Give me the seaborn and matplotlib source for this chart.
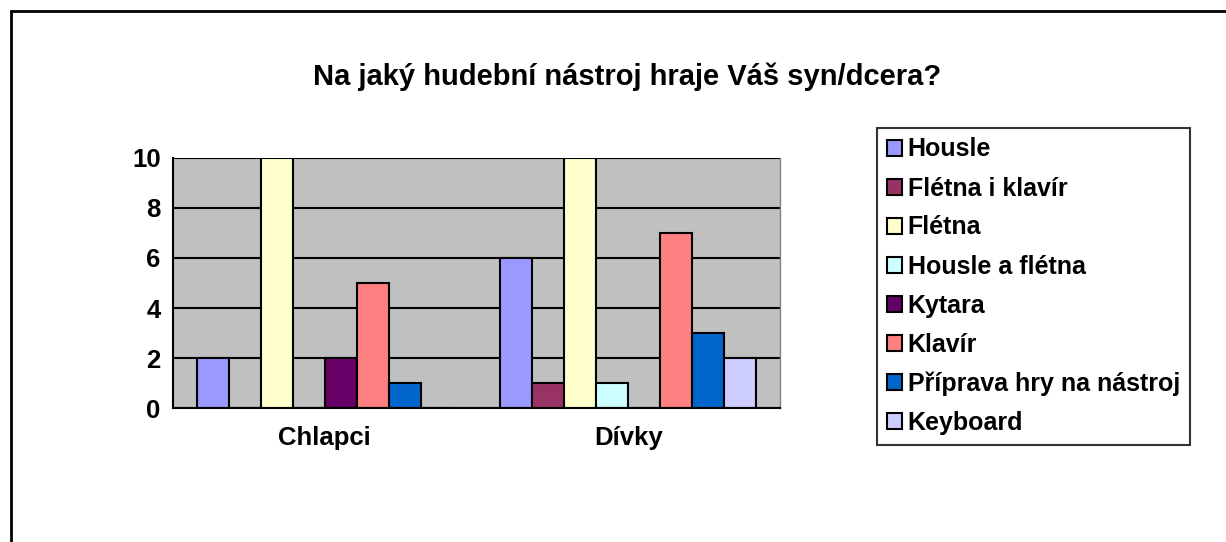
import pandas as pd
import numpy as np
import matplotlib.pyplot as plt
import seaborn as sns
from matplotlib.patches import Rectangle

sns.set_style("white")
plt.rcParams["font.family"] = ["Liberation Sans", "DejaVu Sans"]
plt.rcParams["font.weight"] = "bold"
plt.rcParams["text.color"] = "black"
plt.rcParams["xtick.color"] = "black"
plt.rcParams["ytick.color"] = "black"

groups = ["Chlapci", "Dívky"]
instruments = ["Housle", "Flétna i klavír", "Flétna", "Housle a flétna",
               "Kytara", "Klavír", "Příprava hry na nástroj", "Keyboard"]
chlapci = [2, 0, 10, 0, 2, 5, 1, 0]
divky = [6, 1, 10, 1, 0, 7, 3, 2]
colors = ["#9999FF", "#993366", "#FFFFCC", "#CCFFFF",
          "#660066", "#FF8080", "#0066CC", "#CCCCFF"]

df = pd.DataFrame({
    "skupina": [groups[0]] * len(instruments) + [groups[1]] * len(instruments),
    "nastroj": instruments * 2,
    "pocet": chlapci + divky,
})

fig = plt.figure(figsize=(12.26, 5.42), dpi=100)
ax = fig.add_axes([173 / 1226, 134 / 542, 607 / 1226, 250 / 542])
ax.set_facecolor("#C0C0C0")

sns.barplot(data=df, x="skupina", y="pocet", hue="nastroj", hue_order=instruments,
            palette=colors, width=0.843, edgecolor="black", linewidth=1.5,
            saturation=1, ax=ax)

ax.set_ylim(0, 10)
ax.set_xlim(-0.5, 1.5)
ax.set_yticks([0, 2, 4, 6, 8, 10])
ax.yaxis.grid(True, color="black", linewidth=1.5)
ax.set_axisbelow(True)
ax.set_xlabel("")
ax.set_ylabel("")
ax.set_xticks([-0.5, 0.5, 1.5], minor=True)
ax.tick_params(axis="x", which="major", length=0, pad=13, labelsize=18.5)
ax.tick_params(axis="x", which="minor", length=5, width=1.5, direction="out")
ax.tick_params(axis="y", length=5, width=1.5, direction="out", labelsize=18.5, pad=4)
for lab in ax.get_xticklabels() + ax.get_yticklabels():
    lab.set_fontweight("bold")
for s in ["left", "bottom"]:
    ax.spines[s].set_color("black")
    ax.spines[s].set_linewidth(1.5)
ax.spines["top"].set_visible(False)
ax.spines["right"].set_color("#808080")
ax.spines["right"].set_linewidth(1)

handles, labels = ax.get_legend_handles_labels()
ax.get_legend().remove()
leg = fig.legend(handles, labels, loc="upper left",
                 bbox_to_anchor=(877 / 1226, 1 - 128 / 542),
                 frameon=True, fancybox=False,
                 fontsize=18, handlelength=0.6, handleheight=0.6,
                 handletextpad=0.25, labelspacing=0.6, borderpad=0.38,
                 borderaxespad=0)
leg.get_frame().set_linewidth(1.5)
leg.get_frame().set_edgecolor("black")
for t in leg.get_texts():
    t.set_fontweight("bold")

fig.text(627 / 1226, 1 - 77 / 542, "Na jaký hudební nástroj hraje Váš syn/dcera?",
         ha="center", va="center", fontsize=21, fontweight="bold")

fig.patches.append(Rectangle((11 / 1226, -0.1), 1.2, 1 - 11 / 542 + 0.1,
                             transform=fig.transFigure, fill=False,
                             edgecolor="black", linewidth=2))

fig.savefig("out.png", dpi=100)
